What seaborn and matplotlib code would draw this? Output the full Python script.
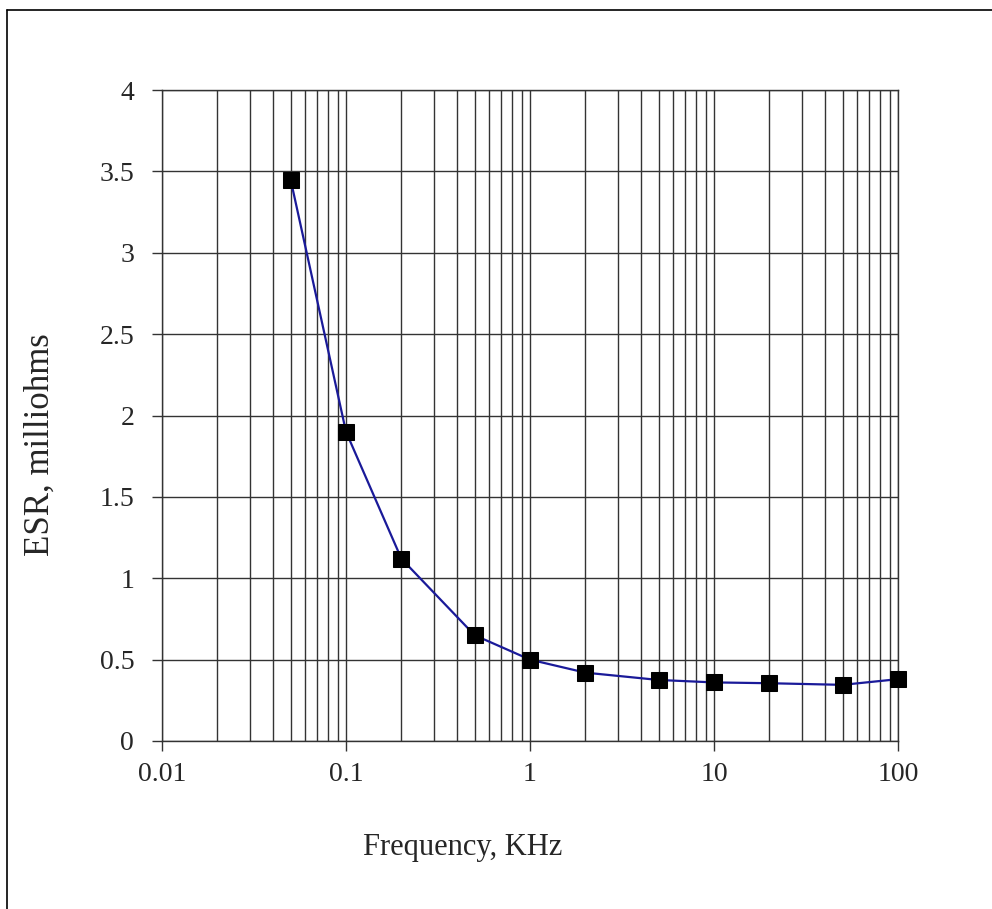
import numpy as np
import matplotlib
matplotlib.use("Agg")
import matplotlib.pyplot as plt
import seaborn as sns
import pandas as pd
from matplotlib.ticker import FixedLocator, NullFormatter
from matplotlib.lines import Line2D

frequencia = [0.05, 0.1, 0.2, 0.5, 1, 2, 5, 10, 20, 50, 100]
esr = [3.45, 1.90, 1.12, 0.65, 0.50, 0.42, 0.375, 0.36, 0.355, 0.345, 0.38]
x_ticks = [0.01, 0.1, 1, 10, 100]
x_labels = ["0.01", "0.1", "1", "10", "100"]
y_ticks = [0, 0.5, 1, 1.5, 2, 2.5, 3, 3.5, 4]
y_labels = ["0", "0.5", "1", "1.5", "2", "2.5", "3", "3.5", "4"]

df = pd.DataFrame({"freq": frequencia, "esr": esr})

sns.set_style("white")
plt.rcParams["font.family"] = ["Liberation Serif", "DejaVu Serif"]

fig = plt.figure(figsize=(9.92, 9.09), dpi=100)
ax = fig.add_axes([162 / 992, 1 - 741 / 909, (898 - 162) / 992, (741 - 90) / 909])

ax.set_xscale("log")
ax.set_xlim(0.01, 100)
ax.set_ylim(0, 4)

# grade: linhas maiores e menores em preto
minor = [m * 10.0 ** e for e in range(-2, 2) for m in range(2, 10)]
ax.xaxis.set_minor_locator(FixedLocator(minor))
ax.xaxis.set_minor_formatter(NullFormatter())
ax.grid(True, which="both", axis="x", color="#333333", linewidth=1.0)
ax.grid(True, which="major", axis="y", color="#333333", linewidth=1.0)
ax.set_axisbelow(True)

sns.lineplot(data=df, x="freq", y="esr", ax=ax, color="#1a1a99", linewidth=1.6,
             marker="s", markersize=11, markerfacecolor="black",
             markeredgecolor="black", zorder=3, clip_on=False)

ax.set_xticks(x_ticks)
ax.set_xticklabels(x_labels)
ax.set_yticks(y_ticks)
ax.set_yticklabels(y_labels)
ax.tick_params(axis="both", which="major", direction="out", length=7, width=1,
               color="#333333", labelsize=20, bottom=True, left=True)
ax.tick_params(axis="x", which="major", pad=8)
ax.tick_params(axis="y", which="major", pad=13)
ax.tick_params(axis="x", which="minor", length=0, bottom=False)
ax.set_xlabel("")
ax.set_ylabel("")

for s in ax.spines.values():
    s.set_color("#333333")
    s.set_linewidth(1.0)

fig.text(463 / 992, 1 - 848 / 909, "Frequency, KHz", fontsize=22,
         ha="center", va="center")
fig.text(40 / 992, 1 - 445 / 909, "ESR, milliohms", fontsize=25,
         ha="center", va="center", rotation=90)

# moldura da figura (apenas topo e esquerda visiveis)
fig.add_artist(Line2D([7 / 992, 7 / 992], [0, 1 - 9.5 / 909], color="black", linewidth=1.2))
fig.add_artist(Line2D([7 / 992, 1], [1 - 9.5 / 909, 1 - 9.5 / 909], color="black", linewidth=1.2))

fig.savefig("out.png", dpi=100, facecolor="white")
